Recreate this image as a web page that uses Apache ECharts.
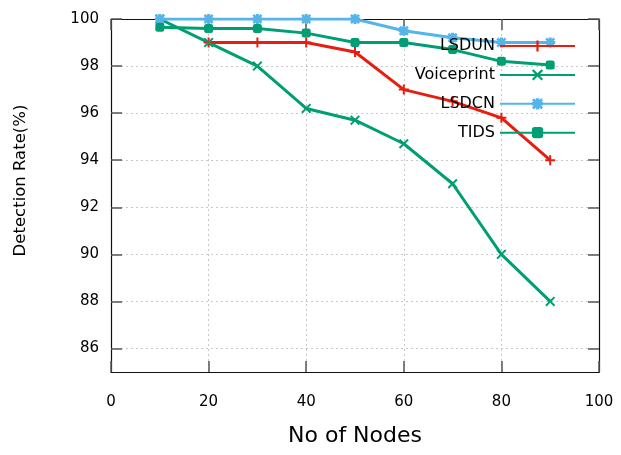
<!DOCTYPE html>
<html>
<head>
<meta charset="utf-8">
<script src="https://cdn.jsdelivr.net/npm/echarts@6/dist/echarts.min.js"></script>
<style>
  html, body { margin: 0; padding: 0; background: #fff; }
  #chart { width: 621px; height: 455px; }
</style>
</head>
<body>
<div id="chart"></div>
<script>
// Number of nodes in the network
const nodes = [10, 20, 30, 40, 50, 60, 70, 80, 90];

// Detection rate (%) per scheme
const lsdun      = [null, 99, 99, 99, 98.6, 97, 96.5, 95.8, 94];
const voiceprint = [100, 99, 98, 96.2, 95.7, 94.7, 93, 90, 88];
const lsdcn      = [100, 100, 100, 100, 100, 99.5, 99.2, 99, 99];
const tids       = [99.65, 99.6, 99.6, 99.4, 99, 99, 98.7, 98.2, 98.05];

// Axis ticks
const xTicks = [0, 20, 40, 60, 80, 100];
const yTicks = [86, 88, 90, 92, 94, 96, 98, 100];

const FONT = 'DejaVu Sans';

// Marker shapes
const PLUS = 'path://M4,0H6V4H10V6H6V10H4V6H0V4H4Z';
const CROSS = 'path://M1.4,0L5,3.6L8.6,0L10,1.4L6.4,5L10,8.6L8.6,10L5,6.4L1.4,10L0,8.6L3.6,5L0,1.4Z';
const STAR = 'path://M3.5,0H6.5V3.5H10V6.5H6.5V10H3.5V6.5H0V3.5H3.5Z' +
             'M1.8,0L5,3.2L8.2,0L10,1.8L6.8,5L10,8.2L8.2,10L5,6.8L1.8,10L0,8.2L3.2,5L0,1.8Z';

function pairs(ys) {
  const out = [];
  nodes.forEach((x, i) => { if (ys[i] != null) out.push([x, ys[i]]); });
  return out;
}

function lineSeries(name, ys, color, symbol, size) {
  return {
    name: name,
    type: 'line',
    data: pairs(ys),
    symbol: symbol,
    symbolSize: size,
    showAllSymbol: true,
    lineStyle: { color: color, width: 3 },
    itemStyle: { color: color },
    emphasis: { disabled: true },
    animation: false
  };
}

// Mirrored inward ticks on all four sides of the frame
const tickStyle = { show: true, inside: true, length: 11, lineStyle: { color: '#555', width: 1.5 } };
const gridLine = { show: true, lineStyle: { color: '#c8c8c8', type: [2, 3], width: 1 } };
const frameLine = { show: true, onZero: false, lineStyle: { color: '#111', width: 1.2 } };

const chart = echarts.init(document.getElementById('chart'), null, { renderer: 'canvas' });
chart.setOption({
  backgroundColor: '#fff',
  textStyle: { fontFamily: FONT },
  grid: { left: 111, right: 22, top: 19, bottom: 83, containLabel: false },
  legend: {
    orient: 'vertical',
    align: 'right',
    right: 40,
    top: 33,
    itemWidth: 75,
    itemHeight: 14,
    itemGap: 12.9,
    selectedMode: false,
    textStyle: { fontFamily: FONT, fontSize: 16, color: '#000' },
    data: ['LSDUN', 'Voiceprint', 'LSDCN', 'TIDS']
  },
  xAxis: [
    {
      type: 'value', min: 0, max: 100, interval: 20,
      position: 'bottom',
      name: 'No of Nodes', nameLocation: 'middle', nameGap: 53,
      nameTextStyle: { fontFamily: FONT, fontSize: 22, color: '#000' },
      axisLine: frameLine,
      axisTick: tickStyle,
      axisLabel: { margin: 23, fontSize: 15, color: '#000', fontFamily: FONT },
      splitLine: gridLine
    },
    {
      type: 'value', min: 0, max: 100, interval: 20,
      position: 'top',
      axisLine: frameLine,
      axisTick: tickStyle,
      axisLabel: { show: false },
      splitLine: { show: false }
    }
  ],
  yAxis: [
    {
      type: 'value', min: 85, max: 100,
      position: 'left',
      name: 'Detection Rate(%)', nameLocation: 'middle', nameGap: 82,
      nameTextStyle: { fontFamily: FONT, fontSize: 16.5, color: '#000', padding: [0, 0, 0, 30] },
      axisLine: frameLine,
      axisTick: Object.assign({}, tickStyle, { customValues: yTicks }),
      axisLabel: { margin: 12, fontSize: 15, color: '#000', fontFamily: FONT, customValues: yTicks },
      splitLine: gridLine
    },
    {
      type: 'value', min: 85, max: 100,
      position: 'right',
      axisLine: frameLine,
      axisTick: Object.assign({}, tickStyle, { customValues: yTicks }),
      axisLabel: { show: false, customValues: yTicks },
      splitLine: { show: false }
    }
  ],
  series: [
    lineSeries('LSDUN', lsdun, '#e51e10', PLUS, 10),
    lineSeries('Voiceprint', voiceprint, '#009e73', CROSS, 10),
    lineSeries('LSDCN', lsdcn, '#56b4e9', STAR, 10),
    lineSeries('TIDS', tids, '#009e73', 'roundRect', 9)
  ]
});
</script>
</body>
</html>
